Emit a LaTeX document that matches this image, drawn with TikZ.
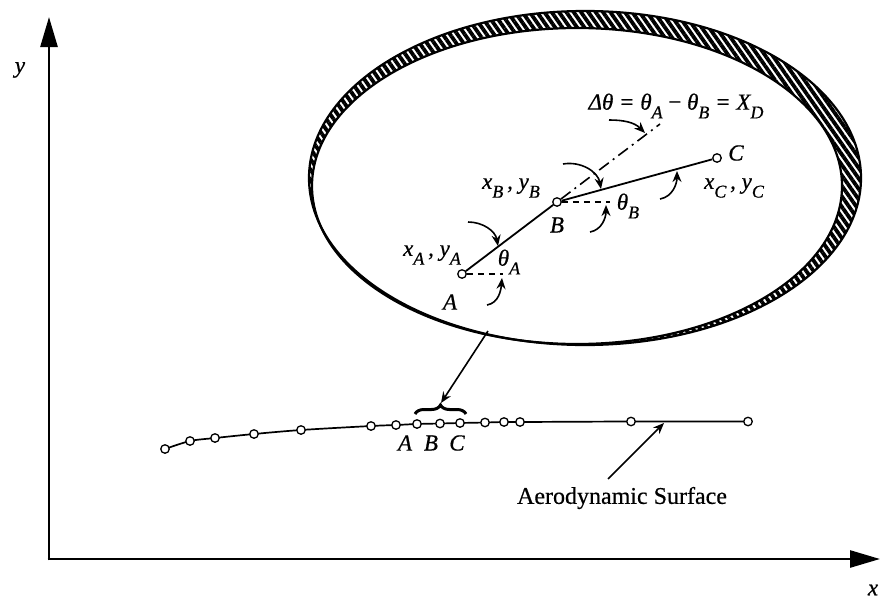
\documentclass[tikz,border=0pt]{standalone}
\usepackage{fontspec}
\setmainfont{Liberation Serif}[UprightFeatures={FakeBold=0.5},ItalicFeatures={FakeBold=0.6}]
\usetikzlibrary{arrows.meta,patterns.meta,decorations.pathreplacing}
\newcommand\lsub[1]{\raisebox{-0.38em}{\fontsize{18pt}{18pt}\selectfont #1}}
\begin{document}
\begin{tikzpicture}[x=1pt,y=-1pt,
  lbl/.style={font=\fontsize{23pt}{25pt}\selectfont\itshape, inner sep=0pt},
  pt/.style={circle,draw,fill=white,line width=1.3pt,minimum size=8.5pt,inner sep=0pt},
  axis/.style={line width=2.6pt,-{Triangle[length=30pt,width=17pt]}},
  ptr/.style={line width=1.6pt,-{Stealth[length=11pt,width=9pt]}},
  seg/.style={line width=1.8pt},
  hdash/.style={line width=1.6pt,dash pattern=on 6pt off 5pt},
  dashdotline/.style={line width=1.6pt,dash pattern=on 12pt off 5pt on 2pt off 5pt},
  rim/.style={line width=2.2pt}]
\useasboundingbox (0,0) rectangle (880,605);

% axes
\coordinate (O) at (49,559);
\coordinate (Ytip) at (49,17);
\coordinate (Xtip) at (880,559);
\draw[axis] ([yshift=-1.3pt]O) -- (Ytip);
\draw[axis] ([xshift=-1.3pt]O) -- (Xtip);
\node[lbl] (ylab) at (20,70) {y};
\node[lbl] (xlab) at (873,590) {x};

% hatched ellipse
\fill[pattern={Lines[angle=-55,distance=6pt,line width=3.8pt]},even odd rule]
  (585,178) ellipse [x radius=276pt, y radius=167pt]
  (577,186) ellipse [x radius=265pt, y radius=158pt];
\draw[rim] (585,178) ellipse [x radius=276pt, y radius=167pt];
\draw[rim] (577,186) ellipse [x radius=265pt, y radius=158pt];

% detail inside ellipse
\node[pt] (A) at (462,274) {};
\node[pt] (B) at (557,202) {};
\node[pt] (C) at (717,158) {};
\draw[seg] (A) -- (B) -- (C);
\coordinate (E) at (660,124);
\draw[dashdotline] (B) -- (E);
\coordinate (Ah) at (503,274);
\coordinate (Bh) at (610,202);
\draw[hdash] (A) -- (Ah);
\draw[hdash] (B) -- (Bh);

\node[lbl] (xAyA) at (432,255) {x\lsub{A}\,, y\lsub{A}};
\node[lbl] (thA) at (509,262) {θ\lsub{A}};
\node[lbl] (Alab) at (450,302) {A};
\node[lbl] (xByB) at (511,188) {x\lsub{B}\,, y\lsub{B}};
\node[lbl] (Blab) at (557,225) {B};
\node[lbl] (thB) at (628,206) {θ\lsub{B}};
\node[lbl] (xCyC) at (734,188) {x\lsub{C}\,, y\lsub{C}};
\node[lbl] (Clab) at (736,153) {C};
\node[lbl] (dth) at (676,106) {Δθ = θ\lsub{A} {\upshape −} θ\lsub{B} = X\lsub{D}};

% curved pointers
\coordinate (p1a) at (609,120); \coordinate (p1b) at (645,133);
\coordinate (p2a) at (563,164); \coordinate (p2b) at (601,189);
\coordinate (p3a) at (590,232); \coordinate (p3b) at (606,205);
\coordinate (p4a) at (660,199); \coordinate (p4b) at (677,171);
\coordinate (p5a) at (468,222); \coordinate (p5b) at (498,246);
\coordinate (p6a) at (487,305); \coordinate (p6b) at (502,278);
\draw[ptr] (p1a) to[out=0,in=135] (p1b);
\draw[ptr] (p2a) to[out=10,in=100] (p2b);
\draw[ptr] (p3a) to[out=10,in=-90] (p3b);
\draw[ptr] (p4a) to[out=10,in=-90] (p4b);
\draw[ptr] (p5a) to[out=0,in=100] (p5b);
\draw[ptr] (p6a) to[out=10,in=-95] (p6b);

% aerodynamic surface
\coordinate (s1) at (165,449);
\coordinate (s2) at (190,441);
\coordinate (s3) at (215,438);
\coordinate (s4) at (254,434);
\coordinate (s5) at (301,430);
\coordinate (s6) at (371,426);
\coordinate (s7) at (396,425);
\coordinate (s8) at (417,424);
\coordinate (s9) at (440,423.5);
\coordinate (s10) at (460,423);
\coordinate (s11) at (485,422.5);
\coordinate (s12) at (504,422);
\coordinate (s13) at (520,422);
\coordinate (s14) at (631,421.5);
\coordinate (s15) at (748,421.5);
\draw[line width=1.7pt] plot[smooth,tension=0.5] coordinates {(s1) (s2) (s3) (s4) (s5) (s6) (s7) (s8) (s9) (s10) (s11) (s12) (s13) (s14) (s15)};
\foreach \i in {1,...,15} \node[pt] (n\i) at (s\i) {};
\node[lbl] (sA) at (405,443) {A};
\node[lbl] (sB) at (431,443) {B};
\node[lbl] (sC) at (457,443) {C};

% brace and link arrow
\coordinate (brL) at (415,414);
\coordinate (brR) at (466,414);
\draw[decorate,decoration={brace,amplitude=9pt},line width=3pt] (brL) -- (brR);
\coordinate (brT) at (441,403);
\coordinate (ellP) at (488,331);
\draw[ptr] (ellP) -- (brT);

\node[font=\fontsize{24pt}{26pt}\selectfont, inner sep=0pt] (aero) at (622,498) {Aerodynamic Surface};
\coordinate (aeroT) at (664,423);
\coordinate (aeroS) at (608,479);
\draw[ptr] (aeroS) -- (aeroT);
\end{tikzpicture}
\end{document}
